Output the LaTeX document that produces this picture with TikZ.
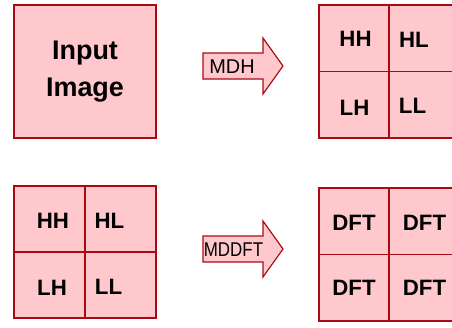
\documentclass[tikz,border=0pt]{standalone}
\usepackage{fontspec}
\setsansfont{Liberation Sans}
\usepackage{graphicx}
\definecolor{BandFill}{HTML}{FFC8CC}
\definecolor{BandLine}{HTML}{AA0A14}
\usetikzlibrary{positioning,calc}
\tikzset{
  band/.style={
    draw=BandLine,
    fill=BandFill,
    line width=1pt,
    inner sep=0pt,
    align=center,
    minimum width=4.2cm,
    minimum height=3.99cm
  },
  inputbox/.style={band, minimum width=4.26cm, font=\sffamily\bfseries\fontsize{23}{31.5}\selectfont},
  divider/.style={draw=BandLine, line width=1pt},
  subband/.style={inner sep=0pt, font=\sffamily\bfseries\fontsize{19}{23}\selectfont},
  opname/.style={inner sep=0pt, font=\sffamily\fontsize{17}{20}\selectfont},
  fatarrow/.pic={
    \draw[draw=BandLine, fill=BandFill, line width=1pt, line join=miter]
      (0,-13) -- (60,-13) -- (60,-28) -- (80,0) -- (60,28) -- (60,13) -- (0,13) -- cycle;
  }
}
\begin{document}
\begin{tikzpicture}[x=0.03cm, y=-0.03cm]
  \useasboundingbox (0,0) rectangle (452,327);
  \clip (0,0) rectangle (452,327);

  % first stage: image -> haar bands
  \node[inputbox] (input) at (85,71.5) {Input\\Image};
  \node[band] (haar) at (389,71.5) {};
  \draw[divider] (haar.north) -- (haar.south);
  \draw[divider] (haar.west) -- (haar.east);
  \pic at (203,66) {fatarrow};
  \node[opname] (mdh) at (232,67) {MDH};

  \node[subband] (hh1) at (355.5,39) {HH};
  \node[subband] (hl1) at (414,39.5) {HL};
  \node[subband] (lh1) at (354.5,107.5) {LH};
  \node[subband] (ll1) at (412.5,105.5) {LL};

  % second stage: bands -> dft
  \node[band, minimum width=4.26cm, minimum height=3.96cm] (bands) at (85,252) {};
  \draw[divider] (bands.north) -- (bands.south);
  \draw[divider] (bands.west) -- (bands.east);
  \node[band] (dft) at (389,254.5) {};
  \draw[divider] (dft.north) -- (dft.south);
  \draw[divider] (dft.west) -- (dft.east);
  \pic at (203,249) {fatarrow};
  \node[opname] (mddft) at (233.5,250) {\scalebox{0.85}[1]{MDDFT}};

  \node[subband] (hh2) at (53,220.5) {HH};
  \node[subband] (hl2) at (109.5,220.5) {HL};
  \node[subband] (lh2) at (52,288) {LH};
  \node[subband] (ll2) at (108.5,286.5) {LL};

  \node[subband] (dft1) at (354,222.5) {DFT};
  \node[subband] (dft2) at (424.5,222.5) {DFT};
  \node[subband] (dft3) at (354,288) {DFT};
  \node[subband] (dft4) at (424.5,288) {DFT};
\end{tikzpicture}
\end{document}
